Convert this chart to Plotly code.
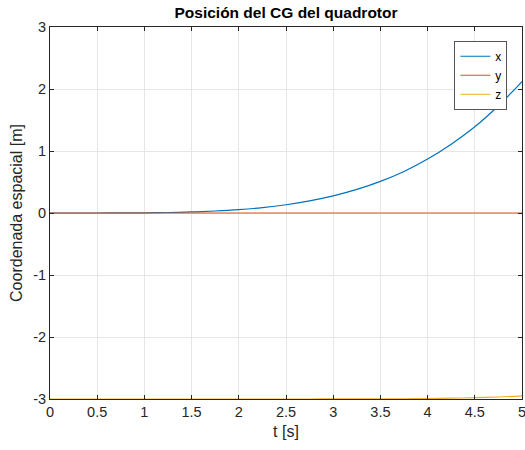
import plotly.graph_objects as go

t = [0, 0.25, 0.5, 0.75, 1.0, 1.25, 1.5, 1.75, 2.0, 2.25, 2.5, 2.75, 3.0,
     3.25, 3.5, 3.75, 4.0, 4.25, 4.5, 4.75, 5.0]
x_pos = [0, 0.0, 0.0002, 0.001, 0.0034, 0.008, 0.017, 0.032, 0.054, 0.087,
         0.133, 0.195, 0.275, 0.38, 0.51, 0.67, 0.87, 1.11, 1.39, 1.73, 2.12]
y_pos = [0] * 21
z_pos = [-3, -3, -3, -3, -3, -3, -3, -3, -3, -3, -3, -3, -2.999,
         -2.999, -2.998, -2.996, -2.992, -2.987, -2.979, -2.968, -2.95]

x_ticks = [0, 0.5, 1, 1.5, 2, 2.5, 3, 3.5, 4, 4.5, 5]
x_tick_text = ["0", "0.5", "1", "1.5", "2", "2.5", "3", "3.5", "4", "4.5", "5"]
y_ticks = [-3, -2, -1, 0, 1, 2, 3]
y_tick_text = ["-3", "-2", "-1", "0", "1", "2", "3"]

FONT = "Liberation Sans, Arial, sans-serif"
AX = "#262626"

fig = go.Figure()
fig.add_trace(go.Scatter(x=t, y=x_pos, mode="lines", name="x",
                         line=dict(color="#0072BD", width=1.2, shape="spline")))
fig.add_trace(go.Scatter(x=t, y=y_pos, mode="lines", name="y",
                         line=dict(color="#D95319", width=1.2)))
fig.add_trace(go.Scatter(x=t, y=z_pos, mode="lines", name="z",
                         line=dict(color="#EDB120", width=1.2, shape="spline")))

axis_common = dict(showline=True, mirror="ticks", linecolor=AX, linewidth=1,
                   ticks="inside", ticklen=4, tickcolor=AX, tickwidth=1,
                   showgrid=True, gridcolor="#e6e6e6", gridwidth=1,
                   zeroline=False, ticklabeloverflow="allow", automargin=False,
                   tickfont=dict(family=FONT, size=14.5, color=AX))

fig.update_xaxes(range=[0, 5], tickvals=x_ticks, ticktext=x_tick_text,
                 title=dict(text="t [s]", font=dict(family=FONT, size=16, color=AX), standoff=6),
                 **axis_common)
fig.update_yaxes(range=[-3, 3], tickvals=y_ticks, ticktext=y_tick_text,
                 title=dict(text="Coordenada espacial [m]", font=dict(family=FONT, size=16, color=AX), standoff=6),
                 **axis_common)

fig.update_layout(
    width=525, height=450,
    margin=dict(l=50, r=3, t=27, b=51, autoexpand=False),
    paper_bgcolor="white", plot_bgcolor="white",
    title=dict(text="<b>Posición del CG del quadrotor</b>", x=0.5, xref="paper",
               y=1 - 12.5 / 450, yref="container", yanchor="middle", xanchor="center",
               font=dict(family=FONT, size=15.5, color="black")),
    legend=dict(x=0.969, y=0.963, xanchor="right", yanchor="top",
                bgcolor="white", bordercolor="#555555", borderwidth=1,
                font=dict(family=FONT, size=12, color="black"),
                tracegroupgap=0, itemwidth=30),
    showlegend=True,
)

fig.write_html("out.html")
